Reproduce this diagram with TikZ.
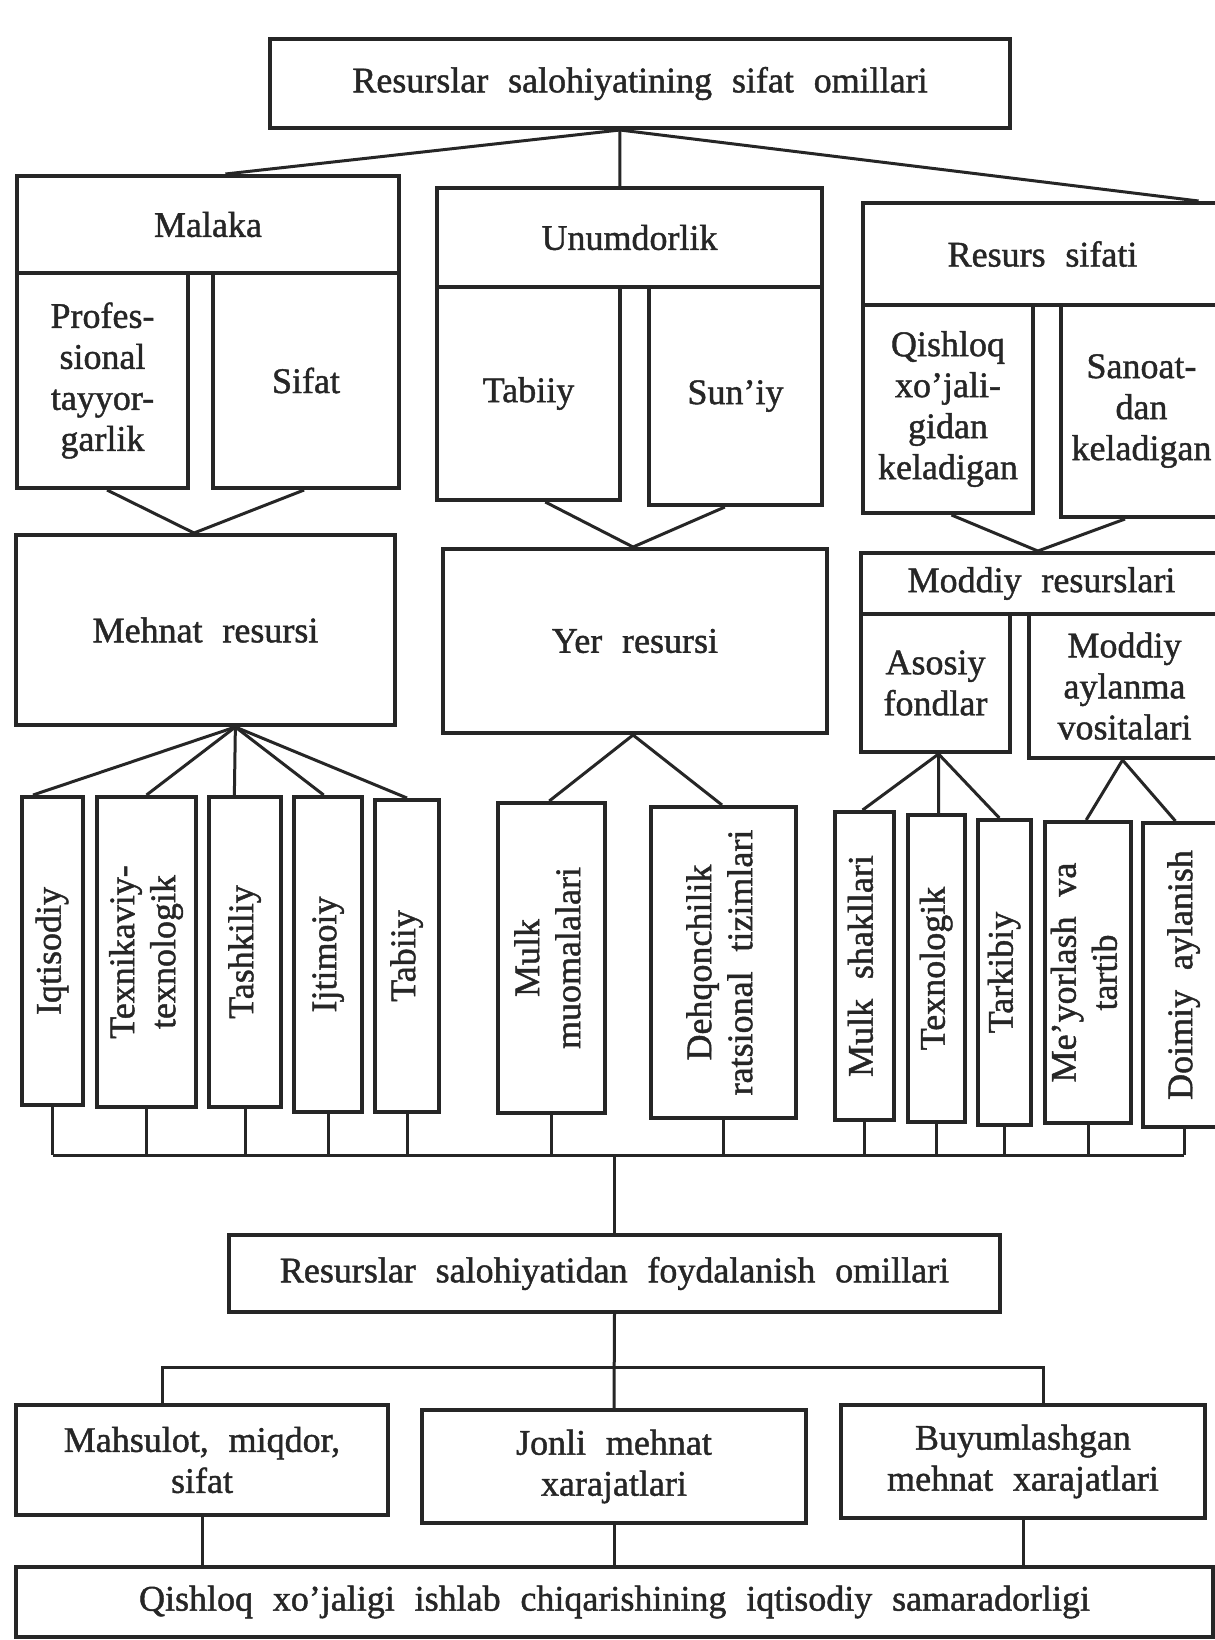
\documentclass[tikz,border=0pt]{standalone}
\usepackage{fontspec}
\setmainfont{Liberation Serif}
\newfontfamily\heavy{Liberation Serif}[FakeBold=1.2]
\usetikzlibrary{calc}
\definecolor{ink}{HTML}{262626}
\newcommand{\vlab}[1]{\rotatebox{90}{\begin{tabular}{@{}c@{}}#1\end{tabular}}}
\newcommand{\wordsp}{\spaceskip 0.55em plus 0.1em\relax}
\tikzset{
  box/.style={draw=ink, line width=2pt, inner sep=0pt, align=center, text=ink,
    font=\heavy\fontsize{18}{20.5}\selectfont, execute at begin node=\wordsp},
  link/.style={draw=ink, line width=1.5pt},
}
\begin{document}
\begin{tikzpicture}[x=0.5pt, y=-0.5pt]
\fill[white] (0,0) rectangle (1215,1640);
\useasboundingbox (0,0) rectangle (1215,1640);

% top level
\node[box, minimum width=370pt, minimum height=44.5pt] (top) at (640,83.5) {Resurslar salohiyatining sifat omillari};

% Malaka group
\node[box, minimum width=191pt, minimum height=48.5pt] (malaka) at (208,224.5) {Malaka};
\node[box, minimum width=85.5pt, minimum height=107.5pt] (prof) at (102.5,380.5) {Profes-\\sional\\tayyor-\\garlik};
\node[box, minimum width=93pt, minimum height=107.5pt] (sifat) at (306,380.5) {Sifat};

% Unumdorlik group
\node[box, minimum width=192.5pt, minimum height=49.5pt] (unum) at (629.5,237.5) {Unumdorlik};
\node[box, minimum width=91.5pt, minimum height=106.5pt] (tabiiy) at (528.5,393.5) {Tabiiy};
\node[box, minimum width=86.5pt, minimum height=109pt] (suniy) at (735.5,396) {Sun’iy};

% Resurs sifati group
\node[box, minimum width=179.5pt, minimum height=51pt] (resurs) at (1042.5,254) {Resurs sifati};
\node[box, minimum width=85pt, minimum height=104pt] (qishloq) at (948,409) {Qishloq\\xo’jali-\\gidan\\keladigan};
\node[box, minimum width=80.5pt, minimum height=106pt] (sanoat) at (1141.5,411) {Sanoat-\\dan\\keladigan};

% resources
\node[box, minimum width=189.5pt, minimum height=95pt] (mehnat) at (205.5,630) {Mehnat resursi};
\node[box, minimum width=192pt, minimum height=92pt] (yer) at (635,641) {Yer resursi};
\node[box, minimum width=180.5pt, minimum height=30.5pt] (moddiy) at (1041.5,583.5) {Moddiy resurslari};
\node[box, minimum width=74.5pt, minimum height=69pt] (asosiy) at (935.5,683) {Asosiy\\fondlar};
\node[box, minimum width=95.5pt, minimum height=72pt] (aylanma) at (1124.5,686) {Moddiy\\aylanma\\vositalari};

% vertical boxes
\node[box, minimum width=30.5pt, minimum height=154pt] (v1) at (52.5,951) {\vlab{Iqtisodiy}};
\node[box, minimum width=49.5pt, minimum height=155pt] (v2) at (146.5,952) {\vlab{Texnikaviy-\\texnologik}};
\node[box, minimum width=36pt, minimum height=155pt] (v3) at (245,952) {\vlab{Tashkiliy}};
\node[box, minimum width=34pt, minimum height=157.5pt] (v4) at (328,954.5) {\vlab{Ijtimoiy}};
\node[box, minimum width=32pt, minimum height=156pt] (v5) at (407,956) {\vlab{Tabiiy}};
\node[box, minimum width=53.5pt, minimum height=155pt] (v6) at (551.5,958) {\vlab{Mulk\\muomalalari}};
\node[box, minimum width=72.5pt, minimum height=155.5pt] (v7) at (723.5,962.5) {\vlab{Dehqonchilik\\ratsional tizimlari}};
\node[box, minimum width=29.5pt, minimum height=154pt] (v8) at (864.5,966) {\vlab{Mulk shakllari}};
\node[box, minimum width=28.5pt, minimum height=153.5pt] (v9) at (936.5,968.5) {\vlab{Texnologik}};
\node[box, minimum width=26.5pt, minimum height=152.5pt] (v10) at (1004.5,972.5) {\vlab{Tarkibiy}};
\node[box, minimum width=43pt, minimum height=150.5pt] (v11) at (1088,972.5) {\vlab{Me’yorlash va\\tartib}};
\node[box, minimum width=41pt, minimum height=152pt] (v12) at (1184,975) {\vlab{Doimiy aylanish}};

% lower part
\node[box, minimum width=385.5pt, minimum height=38.5pt] (foyd) at (614.5,1273.5) {Resurslar salohiyatidan foydalanish omillari};
\node[box, minimum width=186pt, minimum height=55pt] (mahsulot) at (202,1460) {Mahsulot, miqdor,\\sifat};
\node[box, minimum width=192pt, minimum height=56.5pt] (jonli) at (614,1466.5) {Jonli mehnat\\xarajatlari};
\node[box, minimum width=182pt, minimum height=56.5pt] (buyum) at (1023,1461.5) {Buyumlashgan\\mehnat xarajatlari};
\node[box, minimum width=598.5pt, minimum height=35pt] (bottom) at (614.5,1602) {Qishloq xo’jaligi ishlab chiqarishining iqtisodiy samaradorligi};

% top fan
\coordinate (c0) at ($(top.south west)!0.473!(top.south east)$);
\draw[link] (c0) -- ($(malaka.north west)!0.545!(malaka.north east)$);
\draw[link] (c0) -- ($(unum.north west)!0.475!(unum.north east)$);
\draw[link] (c0) -- ($(resurs.north west)!0.93!(resurs.north east)$);

% converging V's
\coordinate (j1) at ($(mehnat.north west)!0.47!(mehnat.north east)$);
\draw[link] ($(prof.south west)!0.526!(prof.south east)$) -- (j1) -- ($(sifat.south west)!0.49!(sifat.south east)$);
\coordinate (j2) at ($(yer.north west)!0.495!(yer.north east)$);
\draw[link] ($(tabiiy.south west)!0.59!(tabiiy.south east)$) -- (j2) -- ($(suniy.south west)!0.44!(suniy.south east)$);
\coordinate (j3) at ($(moddiy.north west)!0.49!(moddiy.north east)$);
\draw[link] ($(qishloq.south west)!0.52!(qishloq.south east)$) -- (j3) -- ($(sanoat.south west)!0.4!(sanoat.south east)$);

% fans to vertical boxes
\coordinate (f1) at ($(mehnat.south west)!0.578!(mehnat.south east)$);
\draw[link] (f1) -- ($(v1.north west)!0.2!(v1.north east)$);
\draw[link] (f1) -- (v2.north);
\draw[link] (f1) -- ($(v3.north west)!0.36!(v3.north east)$);
\draw[link] (f1) -- ($(v4.north west)!0.44!(v4.north east)$);
\draw[link] (f1) -- (v5.north);
\coordinate (f2) at ($(yer.south west)!0.495!(yer.south east)$);
\draw[link] (f2) -- ($(v6.north west)!0.48!(v6.north east)$);
\draw[link] (f2) -- ($(v7.north west)!0.49!(v7.north east)$);
\coordinate (f3) at ($(asosiy.south west)!0.52!(asosiy.south east)$);
\draw[link] (f3) -- ($(v8.north west)!0.47!(v8.north east)$);
\draw[link] (f3) -- ($(v9.north west)!0.535!(v9.north east)$);
\draw[link] (f3) -- ($(v10.north west)!0.41!(v10.north east)$);
\coordinate (f4) at ($(aylanma.south west)!0.49!(aylanma.south east)$);
\draw[link] (f4) -- ($(v11.north west)!0.48!(v11.north east)$);
\draw[link] (f4) -- ($(v12.north west)!0.4!(v12.north east)$);

% bus
\coordinate (bus) at (620,1155);
\foreach \v in {v1,v2,v3,v4,v5,v6,v7,v8,v9,v10,v11,v12}
  \draw[link] (\v.south) -- (\v.south |- bus);
\draw[link] (v1.south |- bus) -- (v12.south |- bus);
\draw[link] (foyd.north |- bus) -- (foyd.north);

% lower branches
\coordinate (hb) at (614.5,1367);
\coordinate (m1) at ($(mahsulot.north west)!0.395!(mahsulot.north east)$);
\coordinate (b1) at ($(buyum.north west)!0.555!(buyum.north east)$);
\draw[link] (foyd.south) -- (jonli.north);
\draw[link] (m1) -- (m1 |- hb) -- (b1 |- hb) -- (b1);
\draw[link] (mahsulot.south) -- (mahsulot.south |- bottom.north);
\draw[link] (jonli.south) -- (jonli.south |- bottom.north);
\draw[link] (buyum.south) -- (buyum.south |- bottom.north);
\end{tikzpicture}
\end{document}
